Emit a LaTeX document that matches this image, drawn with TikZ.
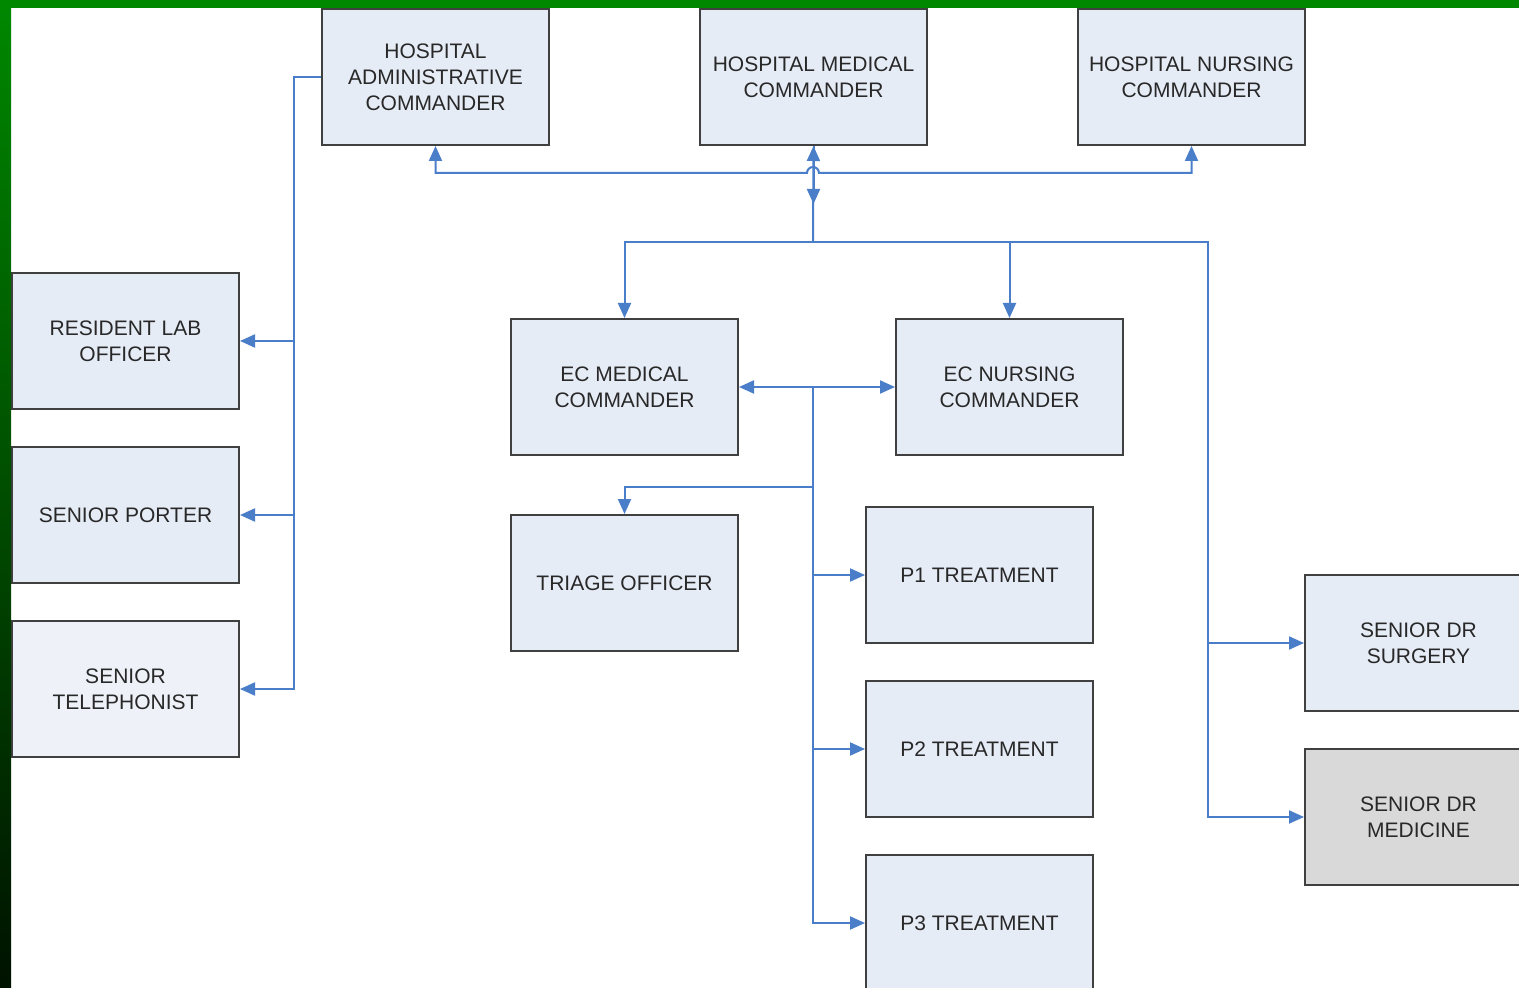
\documentclass[tikz,border=0pt]{standalone}
\usepackage{fontspec}
\setmainfont{Liberation Sans}
\usetikzlibrary{arrows.meta}
\definecolor{bgreen}{RGB}{0,136,0}
\definecolor{dgreen}{RGB}{0,18,0}
\definecolor{boxfill}{RGB}{230,236,246}
\definecolor{boxfilltwo}{RGB}{238,242,248}
\definecolor{boxgray}{RGB}{217,217,217}
\definecolor{boxline}{RGB}{64,64,64}
\definecolor{conncol}{RGB}{74,126,200}
\definecolor{txtcol}{RGB}{40,40,40}
\begin{document}
\begin{tikzpicture}[x=0.5pt,y=-0.5pt,
  box/.style={draw=boxline,line width=1pt,fill=boxfill,minimum width=113.5pt,minimum height=68pt,
    inner sep=0pt,align=center,text=txtcol,font=\fontsize{10.5}{13}\selectfont},
  conn/.style={draw=conncol,line width=1pt,>={Triangle[length=7.5pt,width=6.5pt]}}]
\useasboundingbox (0,0) rectangle (1519,988);
\fill[white] (0,0) rectangle (1519,988);
\begin{scope}
\clip (0,0) rectangle (1519,988);
% nodes
\node[box] (admin) at (435.5,77) {HOSPITAL\\ADMINISTRATIVE\\COMMANDER};
\node[box] (med) at (813.5,77) {HOSPITAL MEDICAL\\COMMANDER};
\node[box] (nurs) at (1191.5,77) {HOSPITAL NURSING\\COMMANDER};
\node[box] (lab) at (125.5,341) {RESIDENT LAB\\OFFICER};
\node[box] (porter) at (125.5,515) {SENIOR PORTER};
\node[box,fill=boxfilltwo] (tel) at (125.5,689) {SENIOR\\TELEPHONIST};
\node[box] (ecmed) at (624.5,387) {EC MEDICAL\\COMMANDER};
\node[box] (ecnurs) at (1009.5,387) {EC NURSING\\COMMANDER};
\node[box] (triage) at (624.5,583) {TRIAGE OFFICER};
\node[box] (p1) at (979.5,575) {P1 TREATMENT};
\node[box] (p2) at (979.5,749) {P2 TREATMENT};
\node[box] (p3) at (979.5,923) {P3 TREATMENT};
\node[box] (surg) at (1418.5,643) {SENIOR DR\\SURGERY};
\node[box,fill=boxgray] (medi) at (1418.5,817) {SENIOR DR\\MEDICINE};
% left bus
\coordinate (lb) at (294,77);
\draw[conn,->] (admin.west) -- (lb) |- (tel.east);
\draw[conn,->] (lb |- lab.east) -- (lab.east);
\draw[conn,->] (lb |- porter.east) -- (porter.east);
% top bus with hop
\coordinate (hopl) at (807,173);
\draw[conn,<->] (admin.south) |- (hopl) arc[start angle=180,end angle=0,radius=3pt] -| (nurs.south);
\coordinate (mb) at (813,242);
\draw[conn,->] (mb) -- (med.south);
\draw[conn,->] (med.south) -- ++(0,58);
% second bus
\coordinate (rb) at (1208,242);
\draw[conn,<->] (ecmed.north) |- (rb) |- (medi.west);
\draw[conn,->] (ecnurs.north |- mb) -- (ecnurs.north);
\draw[conn,->] (rb |- surg.west) -- (surg.west);
% EC link
\draw[conn,<->] (ecmed.east) -- (ecnurs.west);
\coordinate (cb) at (813,387);
\draw[conn,->] (cb) |- (p3.west);
\draw[conn,->] (cb |- p1.west) -- (p1.west);
\draw[conn,->] (cb |- p2.west) -- (p2.west);
\coordinate (tb) at (813,487);
\draw[conn,->] (tb) -| (triage.north);
\end{scope}
% frame
\shade[top color=bgreen,bottom color=dgreen] (0,0) rectangle (11,988);
\fill[bgreen] (0,0) rectangle (1519,8);
\end{tikzpicture}
\end{document}
